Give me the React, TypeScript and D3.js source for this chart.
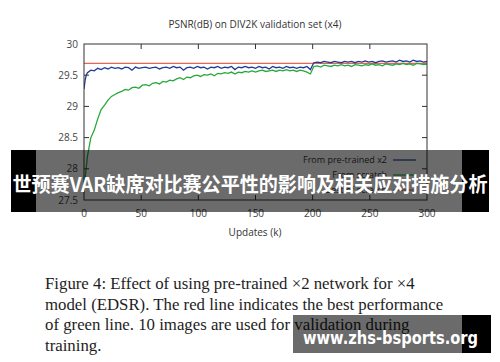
import React from "react";
import * as d3 from "d3";

const updates = [0,1,2,3,6,9,12,15,18,21,24,27,30,33,36,39,42,45,48,51,54,57,60,63,66,69,72,75,78,81,84,87,90,93,96,99,102,105,108,111,114,117,120,123,126,129,132,135,138,141,144,147,150,153,156,159,162,165,168,171,174,177,180,183,186,189,192,195,198,201,204,207,210,213,216,219,222,225,228,231,234,237,240,243,246,249,252,255,258,261,264,267,270,273,276,279,282,285,288,291,294,297,300];

const pretrainedPsnr = [29.28,29.42,29.50,29.54,29.58,29.57,29.61,29.59,29.62,29.60,29.63,29.61,29.62,29.60,29.63,29.62,29.58,29.63,29.61,29.62,29.63,29.61,29.62,29.63,29.60,29.62,29.63,29.61,29.64,29.62,29.63,29.58,29.62,29.63,29.61,29.64,29.62,29.63,29.60,29.63,29.62,29.64,29.61,29.63,29.62,29.64,29.59,29.63,29.62,29.64,29.62,29.63,29.61,29.64,29.62,29.63,29.60,29.64,29.62,29.63,29.61,29.64,29.62,29.63,29.61,29.63,29.62,29.64,29.59,29.70,29.71,29.70,29.72,29.71,29.70,29.72,29.71,29.70,29.72,29.71,29.72,29.70,29.72,29.71,29.73,29.71,29.72,29.70,29.72,29.73,29.71,29.72,29.73,29.71,29.74,29.72,29.73,29.71,29.74,29.72,29.73,29.71,29.72];

const scratchPsnr = [27.62,27.85,28.02,28.20,28.50,28.62,28.80,28.95,29.02,29.10,29.16,29.19,29.22,29.24,29.27,29.26,29.30,29.31,29.29,29.34,29.35,29.33,29.37,29.38,29.36,29.40,29.39,29.42,29.41,29.44,29.46,29.43,29.47,29.46,29.49,29.50,29.48,29.51,29.50,29.52,29.49,29.53,29.52,29.54,29.53,29.55,29.52,29.55,29.54,29.56,29.55,29.57,29.55,29.57,29.58,29.56,29.57,29.58,29.56,29.58,29.57,29.59,29.57,29.58,29.56,29.58,29.57,29.55,29.52,29.64,29.65,29.63,29.66,29.65,29.64,29.66,29.65,29.67,29.65,29.66,29.64,29.67,29.66,29.65,29.67,29.66,29.68,29.66,29.67,29.65,29.68,29.67,29.66,29.68,29.67,29.69,29.67,29.68,29.66,29.69,29.68,29.67,29.68];

const bestScratch = 29.69;

const xTicks = [0, 50, 100, 150, 200, 250, 300];
const yTicks = [27.5, 28, 28.5, 29, 29.5, 30];

const legendLabels = ["From pre-trained x2", "From scratch", "Best of scratch"];

const captionLines = [
  "Figure 4: Effect of using pre-trained \u00d72 network for \u00d74",
  "model (EDSR). The red line indicates the best performance",
  "of green line. 10 images are used for validation during",
  "training.",
];

const bannerText = "世预赛VAR缺席对比赛公平性的影响及相关应对措施分析";
const watermarkText = "www.zhs-bsports.org";

const BLUE = "#1f3c98";
const GREEN = "#27a83a";
const RED = "#e8654f";
const AXIS = "#333";

export default function App() {
  const left = 84, right = 427, top = 44, bottom = 200;
  const x = d3.scaleLinear().domain([0, 300]).range([left, right]);
  const y = d3.scaleLinear().domain([27.5, 30]).range([bottom, top]);

  const lineOf = (vals: number[]) =>
    d3.line<number>().x((_, i) => x(updates[i])).y((d) => y(d))(vals) || "";

  const font = "'Open Sans', 'Noto Sans', sans-serif";
  const legendColors = [BLUE, GREEN, RED];

  return (
    <svg
      width={500}
      height={362}
      viewBox="0 0 500 362"
      style={{ position: "absolute", left: 0, top: 0, background: "#fff" }}
    >
      <rect x={0} y={0} width={500} height={362} fill="#fff" />
      <defs>
        <clipPath id="plotclip">
          <rect x={left} y={top} width={right - left} height={bottom - top} />
        </clipPath>
      </defs>

      <text x={255} y={28} textAnchor="middle" fontFamily={font} fontSize={10} fill="#333">
        PSNR(dB) on DIV2K validation set (x4)
      </text>

      <g clipPath="url(#plotclip)">
        <line x1={x(0)} x2={x(300)} y1={y(bestScratch)} y2={y(bestScratch)} stroke={RED} strokeWidth={1.3} />
        <path d={lineOf(scratchPsnr)} fill="none" stroke={GREEN} strokeWidth={1.3} />
        <path d={lineOf(pretrainedPsnr)} fill="none" stroke={BLUE} strokeWidth={1.3} />
      </g>

      <rect x={left} y={top} width={right - left} height={bottom - top} fill="none" stroke={AXIS} strokeWidth={1} />

      {xTicks.map((t) => (
        <g key={"x" + t}>
          {t > 0 && t < 300 && (
            <>
              <line x1={x(t)} x2={x(t)} y1={bottom} y2={bottom - 5} stroke={AXIS} />
              <line x1={x(t)} x2={x(t)} y1={top} y2={top + 5} stroke={AXIS} />
            </>
          )}
          <text x={x(t)} y={217} textAnchor="middle" fontFamily={font} fontSize={10} fill="#444">
            {t}
          </text>
        </g>
      ))}
      {yTicks.map((t) => (
        <g key={"y" + t}>
          {t > 27.5 && t < 30 && (
            <>
              <line x1={left} x2={left + 5} y1={y(t)} y2={y(t)} stroke={AXIS} />
              <line x1={right} x2={right - 5} y1={y(t)} y2={y(t)} stroke={AXIS} />
            </>
          )}
          <text x={78} y={y(t) + 3.5} textAnchor="end" fontFamily={font} fontSize={10} fill="#444">
            {t}
          </text>
        </g>
      ))}

      <text x={255} y={236} textAnchor="middle" fontFamily={font} fontSize={10} fill="#333">
        Updates (k)
      </text>

      {legendLabels.map((l, i) => (
        <g key={l}>
          <text x={387} y={163 + i * 15} textAnchor="end" fontFamily={font} fontSize={9} fill="#333">
            {l}
          </text>
          <line x1={393} x2={416} y1={160 + i * 15} y2={160 + i * 15} stroke={legendColors[i]} strokeWidth={1.2} />
        </g>
      ))}

      {captionLines.map((l, i) => (
        <text
          key={i}
          x={45}
          y={289 + i * 20.5}
          fontFamily="'Liberation Serif', 'Times New Roman', serif"
          fontSize={16.8}
          fill="#1e1e1e"
        >
          {l}
        </text>
      ))}

      {/* overlays */}
      <rect x={11} y={150} width={478} height={62} fill="#000" fillOpacity={0.58} />
      <rect x={11} y={150} width={25} height={62} fill="#000" />
      <rect x={462} y={150} width={27} height={62} fill="#000" />
      <text
        x={250}
        y={192}
        textAnchor="middle"
        fontFamily="'Noto Sans CJK SC', sans-serif"
        fontWeight="bold"
        fontSize={20}
        fill="#fff"
        textLength={475}
        lengthAdjust="spacingAndGlyphs"
      >
        {bannerText}
      </text>

      <rect x={293} y={315} width={198} height={38} fill="#000" fillOpacity={0.58} />
      <rect x={462} y={315} width={29} height={38} fill="#000" />
      <text
        x={303}
        y={344}
        fontFamily="'DejaVu Sans', sans-serif"
        fontWeight="bold"
        fontSize={18}
        fill="#fff"
        textLength={175}
        lengthAdjust="spacingAndGlyphs"
      >
        {watermarkText}
      </text>
    </svg>
  );
}
